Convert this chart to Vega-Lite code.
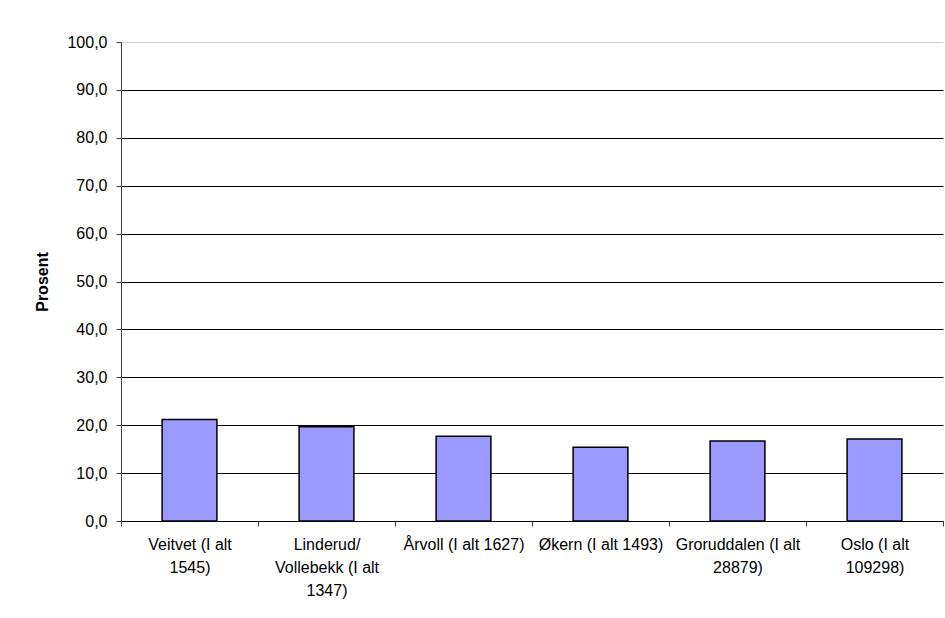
{
  "$schema": "https://vega.github.io/schema/vega-lite/v6.json",
  "width": 822,
  "height": 479,
  "autosize": {"type": "none"},
  "padding": {"left": 121, "top": 42, "right": 2, "bottom": 97},
  "background": "white",
  "config": {
    "view": {"stroke": null},
    "font": "Liberation Sans"
  },
  "data": {
    "values": [
      {"omrade": "Veitvet (I alt 1545)", "prosent": 21.2},
      {"omrade": "Linderud/Vollebekk (I alt 1347)", "prosent": 19.7},
      {"omrade": "Årvoll (I alt 1627)", "prosent": 17.7},
      {"omrade": "Økern (I alt 1493)", "prosent": 15.4},
      {"omrade": "Groruddalen (I alt 28879)", "prosent": 16.7},
      {"omrade": "Oslo (I alt 109298)", "prosent": 17.1}
    ]
  },
  "mark": {"type": "bar", "fill": "#9999FF", "stroke": "#000000", "strokeWidth": 1.5, "width": {"band": 0.4}},
  "encoding": {
    "x": {
      "field": "omrade",
      "type": "nominal",
      "sort": null,
      "scale": {"paddingInner": 0, "paddingOuter": 0},
      "axis": {
        "title": null,
        "labelAngle": 0,
        "labelFontSize": 16,
        "labelColor": "#000000",
        "labelPadding": 10,
        "labelLineHeight": 23,
        "labelLimit": 0,
        "tickBand": "extent",
        "tickSize": 5,
        "tickColor": "#404040",
        "domainColor": "#000000",
        "domainWidth": 1,
        "grid": false,
        "labelExpr": "datum.value == 'Veitvet (I alt 1545)' ? ['Veitvet (I alt', '1545)'] : datum.value == 'Linderud/Vollebekk (I alt 1347)' ? ['Linderud/', 'Vollebekk (I alt', '1347)'] : datum.value == 'Groruddalen (I alt 28879)' ? ['Groruddalen (I alt', '28879)'] : datum.value == 'Oslo (I alt 109298)' ? ['Oslo (I alt', '109298)'] : datum.value"
      }
    },
    "y": {
      "field": "prosent",
      "type": "quantitative",
      "scale": {"domain": [0, 100], "nice": false},
      "axis": {
        "title": "Prosent",
        "titleFontSize": 16,
        "titleFontWeight": "bold",
        "titleColor": "#000000",
        "titlePadding": 16,
        "values": [0, 10, 20, 30, 40, 50, 60, 70, 80, 90, 100],
        "labelExpr": "replace(format(datum.value, '.1f'), '.', ',')",
        "labelFontSize": 16,
        "labelColor": "#000000",
        "labelPadding": 9,
        "tickSize": 5,
        "tickColor": "#404040",
        "domainColor": "#404040",
        "grid": true,
        "gridColor": {"condition": {"test": "datum.value === 100", "value": "#d0d0d0"}, "value": "#000000"},
        "gridOpacity": 1,
        "gridWidth": 1
      }
    }
  }
}
